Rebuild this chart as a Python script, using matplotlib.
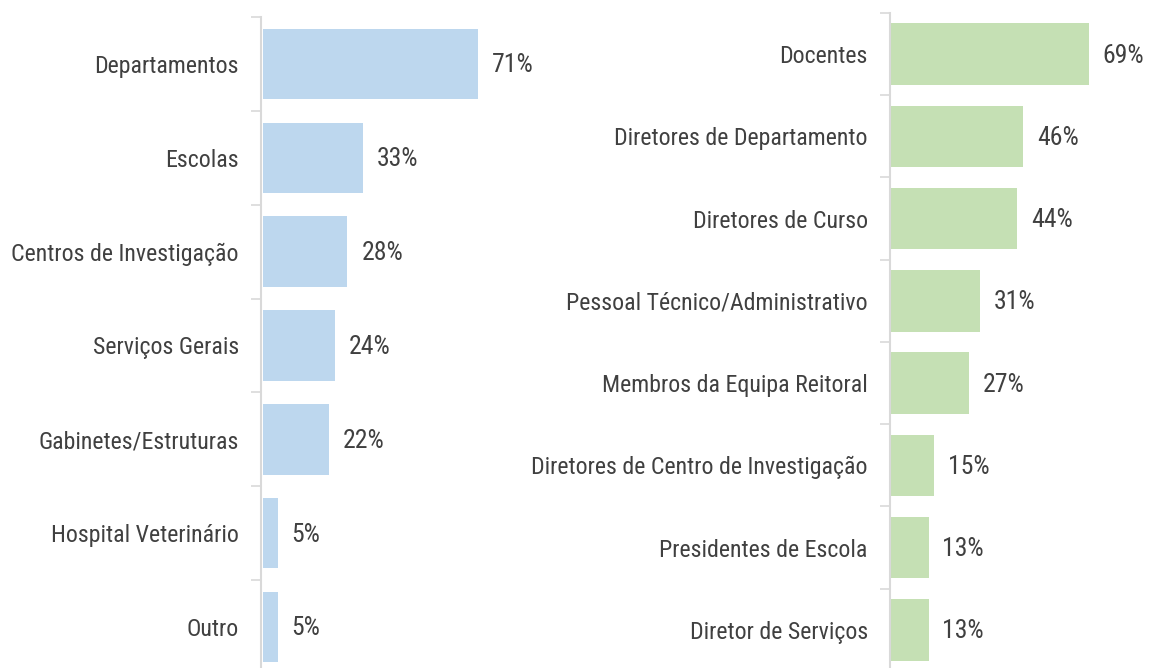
import matplotlib
matplotlib.use("Agg")
import matplotlib.pyplot as plt
from matplotlib import font_manager
import numpy as np

left_cats = ["Departamentos", "Escolas", "Centros de Investigação", "Serviços Gerais",
             "Gabinetes/Estruturas", "Hospital Veterinário", "Outro"]
left_vals = [71, 33, 28, 24, 22, 5, 5]

right_cats = ["Docentes", "Diretores de Departamento", "Diretores de Curso",
              "Pessoal Técnico/Administrativo", "Membros da Equipa Reitoral",
              "Diretores de Centro de Investigação", "Presidentes de Escola",
              "Diretor de Serviços"]
right_vals = [69, 46, 44, 31, 27, 15, 13, 13]

names = {f.name for f in font_manager.fontManager.ttflist}
prefs = ["Liberation Sans Narrow", "Arial Narrow", "Roboto Condensed", "Archivo Narrow",
         "PT Sans Narrow", "Arimo", "Liberation Sans"]
fam = next(p for p in prefs if p in names)
narrow = fam not in ("Arimo", "Liberation Sans")
FS = 17.2 if narrow else 15
VFS = 18.5 if narrow else 16
plt.rcParams['font.family'] = [fam, 'DejaVu Sans']

W, H = 1151, 668
fig = plt.figure(figsize=(W / 100, H / 100), dpi=100)
TXT = "#404040"
SP = "#d9d9d9"


def panel(x0, x1, ytop, ybot, cats, vals, color, xmax):
    ax = fig.add_axes([x0 / W, 1 - ybot / H, (x1 - x0) / W, (ybot - ytop) / H])
    n = len(cats)
    y = np.arange(n)
    ax.barh(y, vals, height=0.75, color=color, zorder=2)
    ax.set_ylim(n - 0.5, -0.5)
    ax.set_xlim(-0.5, xmax)
    for s in ["top", "right", "bottom"]:
        ax.spines[s].set_visible(False)
    ax.spines["left"].set_color(SP)
    ax.spines["left"].set_linewidth(1.5)
    ax.set_xticks([])
    ax.set_yticks(y)
    ax.set_yticklabels(cats, fontsize=FS, color=TXT)
    ax.tick_params(axis="y", which="major", length=0, pad=16)
    ax.set_yticks(np.arange(n + 1) - 0.5, minor=True)
    ax.tick_params(axis="y", which="minor", length=7, width=1.2, color=SP, direction="out")
    for yi, v in zip(y, vals):
        ax.annotate(f"{v}%", (v, yi), xytext=(10, -1), textcoords="offset points",
                    va="center", ha="left", fontsize=VFS, color=TXT)
    ax.patch.set_alpha(0)
    return ax


panel(261, 505, 17, 674, left_cats, left_vals, "#bdd7ee", 80)
panel(890, 1123, 13, 671, right_cats, right_vals, "#c5e0b4", 81)

fig.savefig("out.png", dpi=100)
